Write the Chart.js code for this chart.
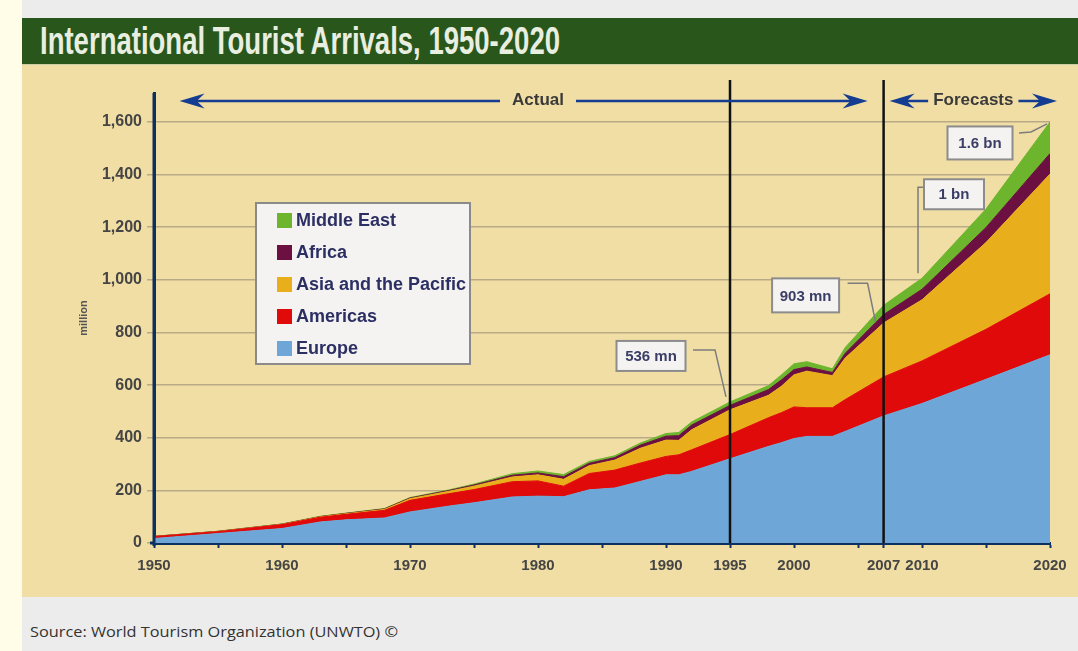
<!DOCTYPE html>
<html>
<head>
<meta charset="utf-8">
<script src="https://cdn.jsdelivr.net/npm/chart.js@4.4.1/dist/chart.umd.min.js"></script>
<style>
  html, body { margin: 0; padding: 0; }
  body { width: 1078px; height: 651px; background: #ececec; position: relative; overflow: hidden; font-family: "Liberation Sans", Arial, sans-serif; }
  #strip { position: absolute; left: 0; top: 0; width: 22px; height: 651px; background: #fffce8; }
  #titlebar { position: absolute; left: 22px; top: 18px; width: 1056px; height: 47px; background: #29561a; border-bottom: 1px solid #c9cfa8; box-sizing: border-box; }
  #title { position: absolute; left: 18px; top: 0; line-height: 47px; font-family: "Liberation Sans", Arial, sans-serif; font-weight: bold; font-size: 38px; color: #e8eee0; white-space: nowrap; display: inline-block; transform-origin: left center; }
  #panel { position: absolute; left: 22px; top: 65px; width: 1056px; height: 532px; background: #f0dea5; }
  #source { position: absolute; left: 30px; top: 621px; font-family: "Open Sans", "Liberation Sans", sans-serif; font-size: 15px; color: #333; white-space: nowrap; display: inline-block; transform-origin: left center; }
</style>
</head>
<body>
<div id="strip"></div>
<div id="titlebar"><span id="title">International Tourist Arrivals, 1950-2020</span></div>
<div id="panel"><canvas id="c" width="1056" height="532"></canvas></div>
<div id="source">Source: World Tourism Organization (UNWTO) ©</div>
<script>
// ---- data (million arrivals) ----
const years     = [1950,1955,1960,1963,1965,1968,1970,1973,1975,1978,1980,1982,1984,1986,1988,1990,1991,1992,1995,1998,1999,2000,2001,2003,2004,2007,2010,2015,2020];
const europe    = [17,  36,  55,  80,  88,  95,  118, 140, 153, 175, 178, 176, 202, 209, 234, 259, 259, 272, 320, 367, 381, 397, 405, 405, 424, 483, 530, 622, 715];
const americas  = [7.5, 7,   15,  18,  21,  29,  44,  47,  50,  58,  58,  40,  62,  68,  70,  70,  76,  82,  92,  109, 114, 120, 109, 109, 121, 148, 162, 190, 232];
const asiaPac   = [0.2, 0.5, 1,   1.5, 2,   3.5, 6.5, 9,   13,  18,  23,  26,  30,  38,  56,  62,  55,  76,  94,  85,  100, 122, 139, 122, 158, 205, 232, 330, 455];
const africa    = [0.5, 0.8, 0.8, 1,   1.4, 2,   2.4, 3,   4.5, 6.5, 7.2, 10,  9,   9.5, 12,  15,  18,  18,  17,  22,  24,  20,  16,  12,  18,  32,  40,  57,  78];
const midEast   = [0.2, 0.5, 0.6, 1,   1.2, 1.5, 1.9, 2.5, 3.5, 6,   7.5, 8,   7,   7,   8,   10,  12,  12,  13,  15,  19,  22,  20,  14,  22,  35,  42,  70,  120];

const seriesNames  = ['Europe', 'Americas', 'Asia and the Pacific', 'Africa', 'Middle East'];
const seriesValues = [europe, americas, asiaPac, africa, midEast];
const seriesColors = ['#6ea6d7', '#e10a0a', '#e8ae1c', '#6b1040', '#6cb52d'];

const yTickValues  = [0, 200, 400, 600, 800, 1000, 1200, 1400, 1600];
const xTickMarks   = [1950,1955,1960,1965,1970,1975,1980,1985,1990,1995,2000,2005,2007,2010,2015,2020];
const xTickLabels  = [1950,1960,1970,1980,1990,1995,2000,2007,2010,2020];
const markerYears  = [1995, 2007];

const callouts = [
  { year: 1995, text: '536 mn', w: 69, h: 30, box: [-79, -46], path: [[-37,-52],[-15,-52],[-4,-5]] },
  { year: 2007, text: '903 mn', w: 67, h: 34, box: [-78, -10], path: [[-36,-22],[-16,-22],[-8,17]] },
  { year: 2010, text: '1 bn',   w: 60, h: 30, box: [32, -84],  path: [[1,-91],[-4,-91],[-4,-5]] },
  { year: 2020, text: '1.6 bn', w: 65, h: 33, box: [-70, 21],  path: [[-31,11],[-19,10],[-3,2]] }
];

// ---- fit condensed texts ----
function fitWidth(id, w) {
  const el = document.getElementById(id);
  const r = w / el.getBoundingClientRect().width;
  el.style.transform = 'scaleX(' + r + ')';
}
fitWidth('title', 520);
fitWidth('source', 368);

const NAVY = '#0c3160';
const FONT = '"Liberation Sans", Arial, sans-serif';

function totalAt(year) {
  const j = years.indexOf(year);
  return seriesValues.reduce((s, arr) => s + arr[j], 0);
}

function arrowHead(ctx, tipX, y, dir) {
  const L = 25, h = 7.5, notch = 8;
  ctx.beginPath();
  ctx.moveTo(tipX, y);
  ctx.lineTo(tipX - dir * L, y - h);
  ctx.lineTo(tipX - dir * (L - notch), y);
  ctx.lineTo(tipX - dir * L, y + h);
  ctx.closePath();
  ctx.fill();
}

const overlay = {
  id: 'overlay',
  afterDatasetsDraw(chart) {
    const { ctx, chartArea, scales: { x } } = chart;
    ctx.save();
    // axis lines over the areas
    ctx.strokeStyle = NAVY; ctx.lineWidth = 3;
    ctx.beginPath(); ctx.moveTo(chartArea.left, chartArea.top); ctx.lineTo(chartArea.left, chartArea.bottom + 3); ctx.stroke();
    ctx.beginPath(); ctx.moveTo(chartArea.left - 4, chartArea.bottom); ctx.lineTo(chartArea.left, chartArea.bottom); ctx.stroke();
    // period boundaries
    ctx.strokeStyle = '#111'; ctx.lineWidth = 2.5;
    markerYears.forEach(yr => {
      const px = x.getPixelForValue(yr);
      ctx.beginPath(); ctx.moveTo(px, chartArea.top - 13); ctx.lineTo(px, chartArea.bottom); ctx.stroke();
    });
    ctx.restore();
  },
  afterDraw(chart) {
    const { ctx, chartArea, scales: { x, y } } = chart;
    ctx.save();

    // ---- Actual / Forecasts arrows ----
    const ay = chartArea.top + 8;
    const split = x.getPixelForValue(markerYears[1]);
    ctx.strokeStyle = '#143c91'; ctx.fillStyle = '#143c91'; ctx.lineWidth = 2.5;
    ctx.font = 'bold 17px ' + FONT; ctx.textBaseline = 'middle'; ctx.textAlign = 'center';

    const aL = x.getPixelForValue(1952), aR = split - 16, aC = x.getPixelForValue(1980);
    const aW = ctx.measureText('Actual').width / 2 + 12;
    ctx.beginPath(); ctx.moveTo(aL + 10, ay); ctx.lineTo(aC - aW, ay); ctx.moveTo(aC + aW, ay); ctx.lineTo(aR - 10, ay); ctx.stroke();
    arrowHead(ctx, aL, ay, -1); arrowHead(ctx, aR, ay, 1);

    const fL = split + 6, fR = chartArea.right + 7, fC = (fL + fR) / 2;
    const fW = ctx.measureText('Forecasts').width / 2 + 5;
    ctx.beginPath(); ctx.moveTo(fL + 10, ay); ctx.lineTo(fC - fW, ay); ctx.moveTo(fC + fW, ay); ctx.lineTo(fR - 10, ay); ctx.stroke();
    arrowHead(ctx, fL, ay, -1); arrowHead(ctx, fR, ay, 1);

    ctx.fillStyle = '#3a3a3a';
    ctx.fillText('Actual', aC, ay - 1);
    ctx.fillText('Forecasts', fC, ay - 1);

    // ---- legend box ----
    const lx = chartArea.left + 102, ly = chartArea.top + 110, lw = 214, lh = 161;
    ctx.fillStyle = '#f4f3f1'; ctx.fillRect(lx, ly, lw, lh);
    ctx.strokeStyle = '#8a8a8a'; ctx.lineWidth = 2; ctx.strokeRect(lx, ly, lw, lh);
    ctx.font = 'bold 18px ' + FONT; ctx.textAlign = 'left'; ctx.textBaseline = 'middle';
    const order = seriesNames.map((n, i) => i).reverse();
    order.forEach((i, r) => {
      const cy = ly + 17 + r * 32;
      ctx.fillStyle = seriesColors[i];
      ctx.fillRect(lx + 21, cy - 7, 15, 15);
      ctx.fillStyle = '#2c2f63';
      ctx.fillText(seriesNames[i], lx + 40, cy + 1);
    });

    // ---- callouts ----
    ctx.font = 'bold 15px ' + FONT; ctx.textAlign = 'center';
    callouts.forEach(c => {
      const px = x.getPixelForValue(c.year), py = y.getPixelForValue(totalAt(c.year));
      ctx.strokeStyle = '#7c7c7c'; ctx.lineWidth = 1.5;
      ctx.beginPath();
      c.path.forEach((p, k) => { if (k === 0) ctx.moveTo(px + p[0], py + p[1]); else ctx.lineTo(px + p[0], py + p[1]); });
      ctx.stroke();
      const bx = px + c.box[0] - c.w / 2, by = py + c.box[1] - c.h / 2;
      ctx.fillStyle = '#f4f3f1'; ctx.fillRect(bx, by, c.w, c.h);
      ctx.strokeStyle = '#8c8c8c'; ctx.lineWidth = 2; ctx.strokeRect(bx, by, c.w, c.h);
      ctx.fillStyle = '#3a3d66';
      ctx.fillText(c.text, px + c.box[0], py + c.box[1] + 1);
    });
    ctx.restore();
  }
};

new Chart(document.getElementById('c'), {
  type: 'line',
  data: {
    datasets: seriesValues.map((vals, i) => ({
      label: seriesNames[i],
      data: years.map((yr, j) => ({ x: yr, y: vals[j] })),
      backgroundColor: seriesColors[i],
      borderColor: seriesColors[i],
      borderWidth: 1,
      pointRadius: 0,
      tension: 0,
      fill: i === 0 ? 'origin' : '-1'
    }))
  },
  options: {
    responsive: false,
    animation: false,
    devicePixelRatio: 1,
    layout: { padding: { left: 0, right: 28, top: 28, bottom: 0 } },
    plugins: { legend: { display: false }, tooltip: { enabled: false } },
    scales: {
      x: {
        type: 'linear', min: 1950, max: 2020, z: 1,
        afterBuildTicks: s => { s.ticks = xTickMarks.map(v => ({ value: v })); },
        ticks: {
          autoSkip: false, maxRotation: 0, padding: 9,
          color: '#454545', font: { family: FONT, size: 15, weight: 'bold' },
          callback: v => xTickLabels.includes(v) ? String(v) : ''
        },
        grid: { drawOnChartArea: false, drawTicks: true, tickLength: 5, tickWidth: 2, tickColor: NAVY, color: NAVY },
        border: { display: true, color: NAVY, width: 3 },
        afterFit: s => { s.height = 54; }
      },
      y: {
        stacked: true, min: 0, max: 1710,
        afterBuildTicks: s => { s.ticks = yTickValues.map(v => ({ value: v })); },
        ticks: {
          padding: 5, color: '#454545', font: { family: FONT, size: 16, weight: 'bold' },
          callback: v => v.toLocaleString('en-US')
        },
        grid: { color: '#b8a987', lineWidth: 1.5, tickLength: 7, drawTicks: true },
        border: { display: true, color: NAVY, width: 3 },
        title: { display: true, text: 'million', color: '#555', font: { family: FONT, size: 11, weight: 'bold' }, padding: { top: 55, bottom: 0 } },
        afterFit: s => { s.width = 132; }
      }
    }
  },
  plugins: [overlay]
});
</script>
</body>
</html>
